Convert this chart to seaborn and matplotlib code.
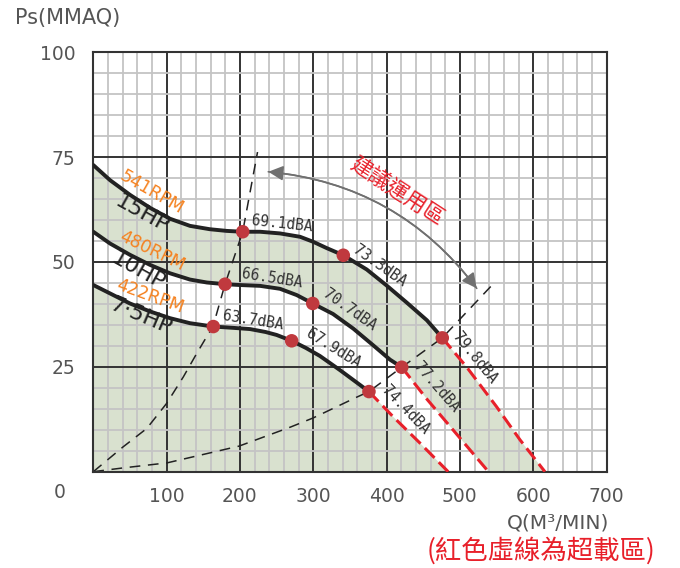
import matplotlib
matplotlib.use("Agg")
import matplotlib.pyplot as plt
from matplotlib.ticker import MultipleLocator
import seaborn as sns

sns.set_style("white")
plt.rcParams["font.family"] = ["DejaVu Sans"]

# fan curves: Q (m3/min) vs Ps (mmAq)
q15 = [0, 22.8, 50, 77.4, 104.6, 131.9, 159, 182, 203.8, 227.5, 254.7, 282, 300, 318.4,
       341, 373, 400, 427.6, 455, 476]
p15 = [73.1, 69.5, 66.0, 62.9, 60.3, 58.6, 57.8, 57.4, 57.2, 57.2, 56.8, 56.0, 54.8, 53.3,
       51.6, 48.2, 44.4, 40.3, 36.1, 31.9]
q15_over = [476, 509, 550, 582, 616]
p15_over = [31.9, 25.0, 15.5, 7.6, 0]

q10 = [0, 22.8, 50, 77.4, 104.6, 131.9, 155, 179.7, 200, 227.5, 254.7, 277.5, 299.3, 327,
       354.7, 382, 404.8, 420.7]
p10 = [57.2, 54.4, 51.7, 49.3, 47.3, 45.8, 45.1, 44.7, 44.5, 44.3, 43.6, 42.1, 40.1, 37.6,
       34.1, 30.1, 26.7, 24.9]
q10_over = [420.7, 455, 491, 539]
p10_over = [24.9, 17.3, 9.9, 0]

q75 = [0, 22.8, 50, 77.4, 104.6, 131.9, 163.7, 190, 213.8, 235, 250, 270.6, 290, 309,
       336.6, 359, 376]
p75 = [44.5, 42.5, 40.1, 38.2, 36.6, 35.4, 34.6, 34.3, 34.0, 33.3, 32.6, 31.2, 29.5, 27.6,
       24.2, 21.3, 19.1]
q75_over = [376, 409, 445.7, 484]
p75_over = [19.1, 13.1, 6.8, 0]

# system resistance curves (dashed)
q_sys_a = [0, 40.5, 72.9, 100.1, 122.8, 141.1, 154.7, 162.9, 179.7, 203.8, 224]
p_sys_a = [0, 5.9, 10.3, 16.3, 22.6, 28.2, 32.2, 34.4, 44.7, 57.2, 76.2]
q_sys_b = [0, 40.5, 100.5, 198.8, 268.4, 299.7, 359.7, 376, 420.7, 476, 544]
p_sys_b = [0, 0.9, 2.1, 6.1, 10.6, 12.8, 17.8, 19.1, 24.9, 31.9, 44.5]

# noise points
pt_q = [203.8, 341, 476, 179.7, 299.3, 420.7, 163.7, 270.6, 376]
pt_p = [57.2, 51.6, 31.9, 44.7, 40.1, 24.9, 34.6, 31.2, 19.1]
pt_lbl = ["69.1dBA", "73.3dBA", "79.8dBA", "66.5dBA", "70.7dBA", "77.2dBA",
          "63.7dBA", "67.9dBA", "74.4dBA"]
# label offset (px) and angle
pt_off = [(8, 7), (9, 3), (10, 1), (16, 6), (9, 7), (11, 0), (9, 7), (13, 5), (12, 1)]
pt_rot = [-6, -35, -51, -9, -35, -49, -9, -32, -46]

xticks = [100, 200, 300, 400, 500, 600, 700]
yticks = [25, 50, 75, 100]

GREEN = "#d9e1cf"
RED = "#e8202a"
DOT = "#c0393e"
ORANGE = "#f58220"
GREY = "#555555"

fig = plt.figure(figsize=(6.8, 5.68), dpi=100)
ax = fig.add_axes([93.3 / 680, 96.3 / 568, 513.2 / 680, 419.5 / 568])

# shaded bands
ax.fill(q15 + q15_over[1:] + q10_over[::-1] + q10[::-1][1:],
        p15 + p15_over[1:] + p10_over[::-1] + p10[::-1][1:],
        color=GREEN, lw=0, zorder=0.2)
ax.fill_between(q75 + q75_over[1:], p75 + p75_over[1:], 0, color=GREEN, lw=0, zorder=0.2)

# system curves
for qs, ps in [(q_sys_a, p_sys_a), (q_sys_b, p_sys_b)]:
    sns.lineplot(x=qs, y=ps, ax=ax, sort=False, estimator=None, color="#222222",
                 lw=1.1, linestyle=(0, (7, 5)), zorder=2)

# fan curves
for qs, ps, qo, po in [(q15, p15, q15_over, p15_over),
                       (q10, p10, q10_over, p10_over),
                       (q75, p75, q75_over, p75_over)]:
    sns.lineplot(x=qs, y=ps, ax=ax, sort=False, estimator=None, color="#222222",
                 lw=2.8, zorder=3, solid_capstyle="round", solid_joinstyle="round")
    sns.lineplot(x=qo, y=po, ax=ax, sort=False, estimator=None, color=RED,
                 lw=2.2, linestyle=(0, (4.5, 2)), zorder=3)

sns.scatterplot(x=pt_q, y=pt_p, ax=ax, s=95, color=DOT, edgecolor="none", zorder=5)

for q, p, lbl, off, rot in zip(pt_q, pt_p, pt_lbl, pt_off, pt_rot):
    ax.annotate(lbl, (q, p), xytext=off, textcoords="offset pixels",
                ha="left", va="baseline", rotation=rot, rotation_mode="anchor",
                fontsize=10.5, color="#333333", family="DejaVu Sans Mono", zorder=6)

# curve names
ax.text(79.6, 66.6, "541RPM", color=ORANGE, fontsize=12.5, rotation=-30,
        ha="center", va="center", rotation_mode="anchor")
ax.text(66, 61.4, "15HP", color="#222222", fontsize=16, rotation=-29,
        ha="center", va="center", rotation_mode="anchor")
ax.text(80.5, 52.5, "480RPM", color=ORANGE, fontsize=12.5, rotation=-26,
        ha="center", va="center", rotation_mode="anchor")
ax.text(61.4, 47.8, "10HP", color="#222222", fontsize=16, rotation=-29,
        ha="center", va="center", rotation_mode="anchor")
ax.text(77.4, 41.8, "422RPM", color=ORANGE, fontsize=12.5, rotation=-20,
        ha="center", va="center", rotation_mode="anchor")
ax.text(64.6, 37.0, "7·5HP", color="#222222", fontsize=16, rotation=-23,
        ha="center", va="center", rotation_mode="anchor")

# recommended range arrow
ax.annotate("", xy=(523, 43.7), xytext=(238.7, 71.5),
            arrowprops=dict(arrowstyle="-|>,head_length=0.9,head_width=0.45",
                            connectionstyle="arc3,rad=-0.22", color="#707070",
                            lw=1.2, shrinkA=0, shrinkB=0), zorder=6)
ax.annotate("", xy=(238.7, 71.5), xytext=(523, 43.7),
            arrowprops=dict(arrowstyle="-|>,head_length=0.9,head_width=0.45",
                            connectionstyle="arc3,rad=0.22", color="#707070",
                            lw=1.2, shrinkA=0, shrinkB=0), zorder=6)
ax.text(414, 66.8, "建議運用區", color=RED, fontsize=15.5, rotation=-33,
        ha="center", va="center", rotation_mode="anchor",
        family=["Noto Sans CJK TC", "DejaVu Sans"])

# axes & grid
ax.set_xlim(0, 700)
ax.set_ylim(0, 100)
ax.set_xticks(xticks)
ax.set_yticks(yticks)
ax.xaxis.set_minor_locator(MultipleLocator(20))
ax.yaxis.set_minor_locator(MultipleLocator(5))
ax.set_axisbelow(True)
ax.grid(which="major", color="#333333", lw=1.4)
ax.grid(which="minor", color="#c4c4c4", lw=1.3)
ax.tick_params(which="both", length=0)
ax.tick_params(axis="x", pad=11, labelsize=13.5, labelcolor=GREY)
ax.tick_params(axis="y", pad=13, labelsize=13.5, labelcolor=GREY)
for s in ax.spines.values():
    s.set_visible(True)
    s.set_color("#333333")
    s.set_linewidth(1.5)
ax.set_xlabel("")
ax.set_ylabel("")

fig.text(60 / 680, 1 - 493 / 568, "0", ha="center", va="center", fontsize=13.5, color=GREY)
fig.text(15 / 680, 1 - 18 / 568, "Ps(MMAQ)", ha="left", va="center", fontsize=15, color=GREY)
fig.text(558 / 680, 1 - 523 / 568, "Q(M³/MIN)", ha="center", va="center", fontsize=14.5, color=GREY)
fig.text(541 / 680, 1 - 551 / 568, "(紅色虛線為超載區)", ha="center", va="center",
         fontsize=19, color=RED, family=["Noto Sans CJK TC", "DejaVu Sans"])

fig.savefig("out.png", dpi=100)
